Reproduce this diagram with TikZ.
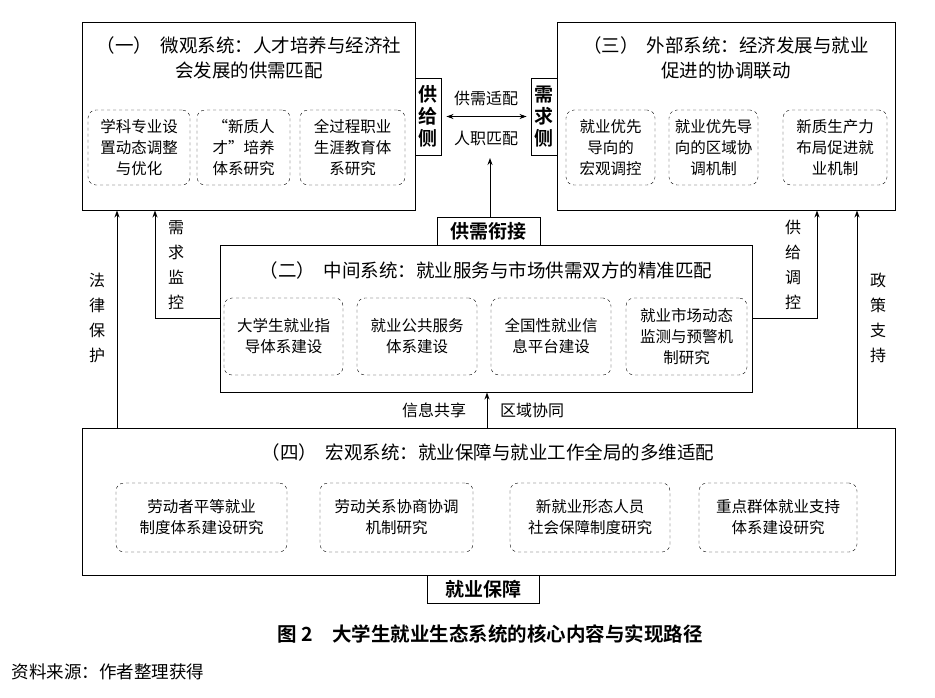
\documentclass[tikz,border=0pt]{standalone}
\usepackage{fontspec}
\setmainfont{Noto Sans CJK SC}
\newfontfamily\cjkb{Noto Sans CJK SC Bold}
\usetikzlibrary{arrows.meta}
\begin{document}
\begin{tikzpicture}[x=1pt,y=-1pt,
  big/.style={draw,line width=0.9pt},
  dbox/.style={draw,dashed,rounded corners=8pt,align=center,font=\fontsize{15.5}{21}\selectfont,inner sep=0pt},
  tag/.style={draw,line width=0.9pt,fill=white,font=\cjkb\fontsize{19}{22}\selectfont,inner sep=0pt},
  ttl/.style={font=\fontsize{18.5}{25}\selectfont,align=center},
  lbl/.style={font=\fontsize{16}{25}\selectfont,align=center},
  arr/.style={-{Stealth[length=7pt,width=5pt]},line width=0.9pt}]
\useasboundingbox (0,0) rectangle (935,697);
% big boxes
\node[big,minimum width=333,minimum height=188,inner sep=0pt] (b1) at (248.5,116) {};
\node[big,minimum width=338,minimum height=188,inner sep=0pt] (b3) at (726,116) {};
\node[big,minimum width=532,minimum height=147,inner sep=0pt] (b2) at (486,318.5) {};
\node[big,minimum width=813,minimum height=147,inner sep=0pt] (b4) at (488.5,501.5) {};
% tags
\node[tag,minimum width=26,minimum height=77,align=center] (sup) at (428,116.5) {供\\给\\侧};
\node[tag,minimum width=26,minimum height=77,align=center] (dem) at (544,116.5) {需\\求\\侧};
\node[tag,minimum width=103,minimum height=28] (jx) at (488.5,231) {供需衔接};
\node[tag,minimum width=112,minimum height=28] (bz) at (483,589) {就业保障};
% titles
\node[ttl] (t1) at (249,58) {（一）\ \ 微观系统：人才培养与经济社\\会发展的供需匹配};
\node[ttl] (t3) at (726,58) {（三）\ \ 外部系统：经济发展与就业\\促进的协调联动};
\node[ttl] (t2) at (486,270) {（二）\ \ 中间系统：就业服务与市场供需双方的精准匹配};
\node[ttl] (t4) at (488,452) {（四）\ \ 宏观系统：就业保障与就业工作全局的多维适配};
% inner dashed boxes
\node[dbox,minimum width=102,minimum height=75] (a1) at (139,147.5) {学科专业设\\置动态调整\\与优化};
\node[dbox,minimum width=93,minimum height=75] (a2) at (243.5,147.5) {“新质人\\才”培养\\体系研究};
\node[dbox,minimum width=105,minimum height=75] (a3) at (352.5,147.5) {全过程职业\\生涯教育体\\系研究};
\node[dbox,minimum width=89,minimum height=75] (c1) at (610.5,147.5) {就业优先\\导向的\\宏观调控};
\node[dbox,minimum width=89,minimum height=75] (c2) at (713.5,147.5) {就业优先导\\向的区域协\\调机制};
\node[dbox,minimum width=104,minimum height=75] (c3) at (835,147.5) {新质生产力\\布局促进就\\业机制};
\node[dbox,minimum width=119,minimum height=77] (m1) at (283.5,336.5) {大学生就业指\\导体系建设};
\node[dbox,minimum width=120,minimum height=77] (m2) at (417,336.5) {就业公共服务\\体系建设};
\node[dbox,minimum width=120,minimum height=77] (m3) at (551,336.5) {全国性就业信\\息平台建设};
\node[dbox,minimum width=121,minimum height=77] (m4) at (686.5,336.5) {就业市场动态\\监测与预警机\\制研究};
\node[dbox,minimum width=171,minimum height=69] (d1) at (201.5,517.5) {劳动者平等就业\\制度体系建设研究};
\node[dbox,minimum width=153,minimum height=69] (d2) at (396.5,517.5) {劳动关系协商协调\\机制研究};
\node[dbox,minimum width=160,minimum height=69] (d3) at (590,517.5) {新就业形态人员\\社会保障制度研究};
\node[dbox,minimum width=158,minimum height=69] (d4) at (778,517.5) {重点群体就业支持\\体系建设研究};
% arrows
\draw[{Stealth[length=7pt,width=5pt]}-{Stealth[length=7pt,width=5pt]},line width=0.9pt] ([xshift=5pt]sup.east) -- ([xshift=-4pt]dem.west);
\node[lbl] (l1) at (486,98) {供需适配};
\node[lbl] (l2) at (486,138) {人职匹配};
\coordinate (q1) at (490,158);
\draw[arr] (jx.north -| q1) -- (q1);
\draw[arr] (b4.north -| 117,0) -- (b1.south -| 117,0);
\draw[arr] (b4.north -| 857,0) -- (b3.south -| 857,0);
\draw[arr] (b2.west |- 0,318) -- (155,318) -- (b1.south -| 155,0);
\draw[arr] (b2.east |- 0,318) -- (817,318) -- (b3.south -| 817,0);
\draw[arr] (b4.north -| 487,0) -- (b2.south -| 487,0);
\node[lbl] (f1) at (97,318) {法\\律\\保\\护};
\node[lbl] (f2) at (878,318) {政\\策\\支\\持};
\node[lbl] (f3) at (176,265) {需\\求\\监\\控};
\node[lbl] (f4) at (793,265) {供\\给\\调\\控};
\node[lbl] (f5) at (434,410) {信息共享};
\node[lbl] (f6) at (532,410) {区域协同};
% caption
\node[font=\cjkb\fontsize{19.5}{22}\selectfont] (cap) at (490,634) {图 2\quad 大学生就业生态系统的核心内容与实现路径};
\node[font=\fontsize{17.5}{20}\selectfont,anchor=west] (src) at (8,672) {资料来源：作者整理获得};
\end{tikzpicture}
\end{document}
